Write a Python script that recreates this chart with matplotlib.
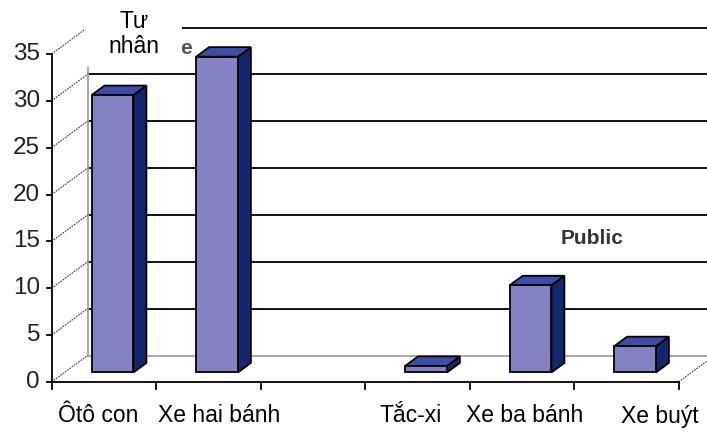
"""Pseudo-3D column chart: vehicle shares, Tư nhân vs Public."""

import matplotlib.pyplot as plt
from matplotlib.patches import Polygon, Rectangle

categories = ["Ôtô con", "Xe hai bánh", "", "Tắc-xi", "Xe ba bánh", "Xe buýt"]
values = [29.6, 33.7, 0.0, 0.7, 9.3, 2.8]
y_ticks = [0, 5, 10, 15, 20, 25, 30, 35]

# layout (pixel calibration of the original picture)
X0, CAT_W = 51.5, 104.5      # px of category 0 edge, px per category
Y0, UNIT_H = 382.0, 9.37     # px of value 0, px per unit
W, H = 707, 441
DX, DY = 36 / CAT_W, 26.5 / UNIT_H   # full depth offset in data units
BAR_D0, BAR_D1 = 0.36, 0.72          # depth range of the bars
BAR_OFF, BAR_W = 0.26, 0.40          # bar position inside a category
label_px = [98, 219, 312, 411, 525, 660]

FRONT, SIDE, TOP = "#8383C3", "#14266C", "#3E4EA8"


def px(x, y):
    return (x - X0) / CAT_W, (Y0 - y) / UNIT_H


def proj(x, y, d):
    return x + DX * d, y + DY * d


def main() -> None:
    fig = plt.figure(figsize=(W / 100, H / 100), dpi=100)
    ax = fig.add_axes([0, 0, 1, 1])
    ax.set_xlim(px(0, 0)[0], px(W, 0)[0])
    ax.set_ylim(px(0, H)[1], px(0, 0)[1])
    ax.axis("off")
    plt.rcParams["font.family"] = ["Liberation Sans", "DejaVu Sans"]

    xmax = px(W, 0)[0]
    # back wall grid
    for v in y_ticks[1:]:
        ax.plot([DX, xmax], [v + DY, v + DY], color="black", lw=1.3, zorder=1)
    ax.plot([DX, xmax], [DY, DY], color="#a0a0a0", lw=1.3, zorder=1)
    ax.plot([DX, DX], [DY, 35 + DY], color="#a0a0a0", lw=1.3, zorder=1)
    # left wall diagonals
    for v in y_ticks:
        ax.plot([0, DX], [v, v + DY], color="#333333", lw=0.8,
                ls=(0, (1.5, 1)), zorder=1)
    # right floor diagonal
    n = len(categories)
    ax.plot([n, n + DX], [0, DY], color="#333333", lw=0.8,
            ls=(0, (1.5, 1)), zorder=1)

    # bars
    for i, v in enumerate(values):
        if not categories[i]:
            continue
        xl = i + BAR_OFF
        xr = xl + BAR_W
        front = [proj(xl, 0, BAR_D0), proj(xr, 0, BAR_D0),
                 proj(xr, v, BAR_D0), proj(xl, v, BAR_D0)]
        side = [proj(xr, 0, BAR_D0), proj(xr, 0, BAR_D1),
                proj(xr, v, BAR_D1), proj(xr, v, BAR_D0)]
        top = [proj(xl, v, BAR_D0), proj(xr, v, BAR_D0),
               proj(xr, v, BAR_D1), proj(xl, v, BAR_D1)]
        for poly, col in ((side, SIDE), (top, TOP), (front, FRONT)):
            ax.add_patch(Polygon(poly, closed=True, facecolor=col,
                                 edgecolor="black", lw=1.3, zorder=3))

    # front axes
    ax.plot([0, 0], [0, 35], color="black", lw=1.3, zorder=4)
    ax.plot([0, n], [0, 0], color="black", lw=1.3, zorder=4)
    tick_len = 5 / CAT_W
    for v in y_ticks:
        ax.plot([-tick_len, 0], [v, v], color="black", lw=1.3, zorder=4)
        ax.text(px(40, 0)[0], v, str(v), ha="right", va="center",
                fontsize=17.5, color="#222222")
    for i in range(n + 1):
        ax.plot([i, i], [0, -7 / UNIT_H], color="black", lw=1.3, zorder=4)
    for lab, lx in zip(categories, label_px):
        if lab:
            ax.text(px(lx, 0)[0], px(0, 416)[1], lab, ha="center",
                    va="center", fontsize=16.5, color="black")

    # series labels
    ax.text(*px(186, 48), "e", ha="center", va="center", fontsize=15,
            fontweight="bold", color="#555555", zorder=5)
    bx0, by0 = px(84, 67)
    bx1, by1 = px(182, 0)
    ax.add_patch(Rectangle((bx0, by0), bx1 - bx0, by1 - by0,
                           facecolor="white", edgecolor="none", zorder=6))
    ax.text(*px(134, 34), "Tư\nnhân", ha="center", va="center",
            fontsize=16.5, color="black", linespacing=1.15, zorder=7)
    ax.text(*px(592, 238), "Public", ha="center", va="center", fontsize=15,
            fontweight="bold", color="#333333", zorder=5)

    fig.savefig("out.png", dpi=100)


if __name__ == "__main__":
    main()
